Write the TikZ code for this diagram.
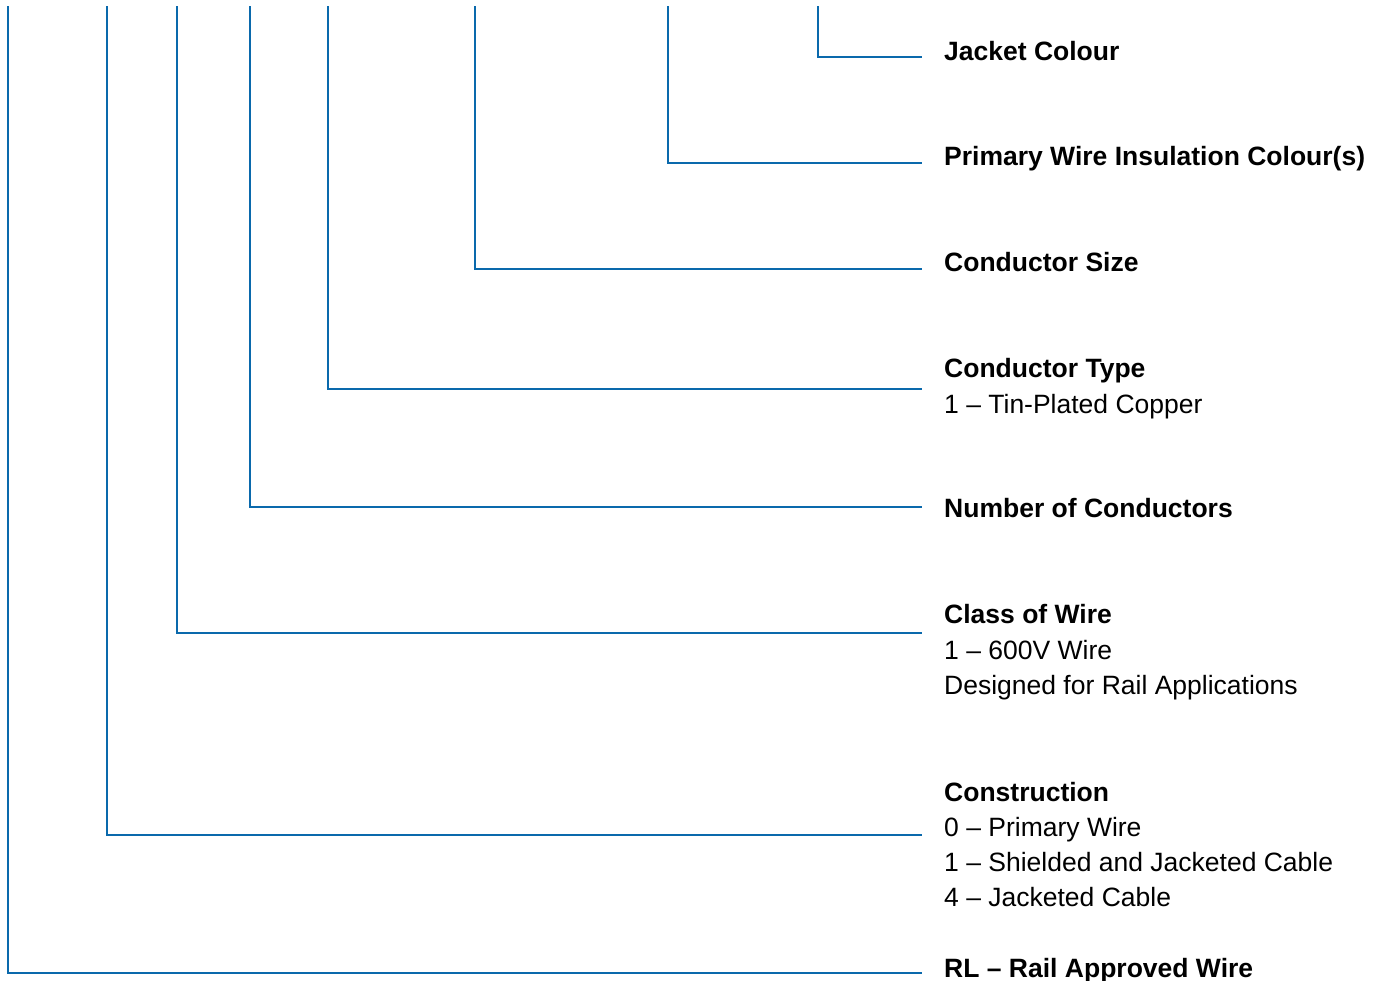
\documentclass[tikz,border=0pt]{standalone}
\usepackage{fontspec}
\setmainfont{Liberation Sans}
\definecolor{leadblue}{RGB}{10,105,172}
\tikzset{
  lead/.style={draw=leadblue, line width=1.2pt},
  head/.style={anchor=base west, inner sep=0pt, font=\fontsize{26.5}{30}\selectfont\bfseries},
  sub/.style={anchor=base west, inner sep=0pt, font=\fontsize{26.5}{30}\selectfont}
}
\begin{document}
\begin{tikzpicture}[x=1pt,y=-1pt]
\path[use as bounding box] (0,0) rectangle (1386,980);
\clip (0,0) rectangle (1386,980);
% label texts
\node[head] (jc) at (944,60) {Jacket Colour};
\node[head] (pw) at (944,165) {Primary Wire Insulation Colour(s)};
\node[head] (cs) at (944,271) {Conductor Size};
\node[head] (ct) at (944,377) {Conductor Type};
\node[sub]  (ct1) at (944,413) {1 – Tin-Plated Copper};
\node[head] (nc) at (944,517) {Number of Conductors};
\node[head] (cw) at (944,623) {Class of Wire};
\node[sub]  (cw1) at (944,659) {1 – 600V Wire};
\node[sub]  (cw2) at (944,694) {Designed for Rail Applications};
\node[head] (co) at (944,801) {Construction};
\node[sub]  (co1) at (944,836) {0 – Primary Wire};
\node[sub]  (co2) at (944,871) {1 – Shielded and Jacketed Cable};
\node[sub]  (co3) at (944,906) {4 – Jacketed Cable};
\node[head] (rl) at (944,977) {RL – Rail Approved Wire};
% connector ends
\coordinate (t1) at (818,6);  \coordinate (e1) at (922,57);
\coordinate (t2) at (668,6);  \coordinate (e2) at (922,163);
\coordinate (t3) at (475,6);  \coordinate (e3) at (922,269);
\coordinate (t4) at (328,6);  \coordinate (e4) at (922,389);
\coordinate (t5) at (250,6);  \coordinate (e5) at (922,507);
\coordinate (t6) at (177,6);  \coordinate (e6) at (922,633);
\coordinate (t7) at (107,6);  \coordinate (e7) at (922,835);
\coordinate (t8) at (8,6);    \coordinate (e8) at (922,973);
\foreach \i in {1,...,8} {\draw[lead] (t\i) |- (e\i);}
\end{tikzpicture}
\end{document}
